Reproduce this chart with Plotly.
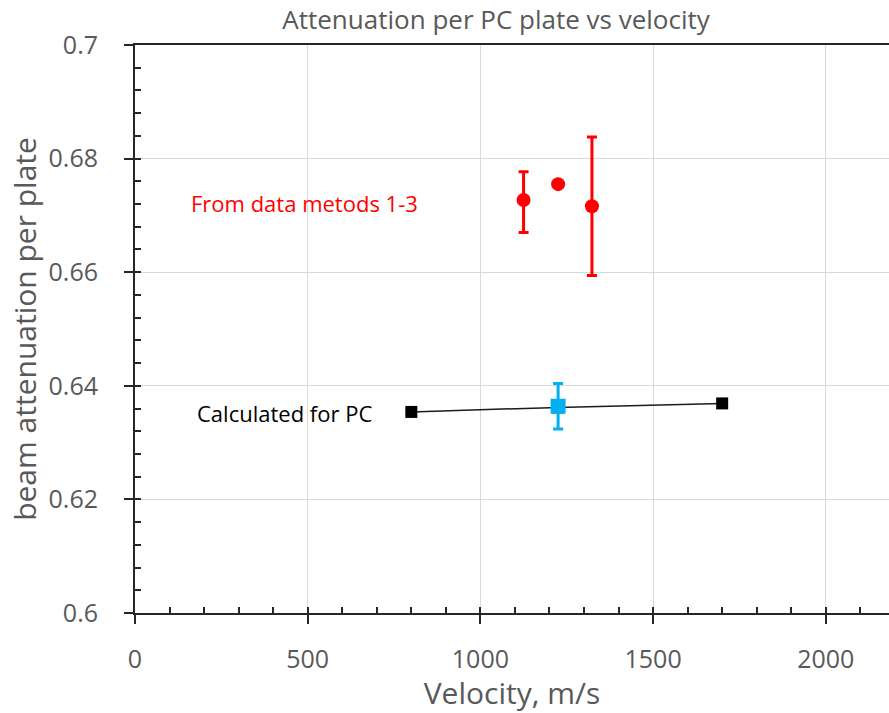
import plotly.graph_objects as go

# Measured attenuation (methods 1-3)
meas_velocity = [1125, 1225, 1323]
meas_atten = [0.6727, 0.6755, 0.6716]
meas_err_plus = [0.0050, 0.0, 0.0122]
meas_err_minus = [0.0057, 0.0, 0.0122]

# Calculated attenuation for PC
calc_velocity = [800, 1225, 1700]
calc_atten = [0.6354, 0.6362, 0.6369]

# Calculated point at the measured velocity, with its uncertainty
pc_velocity = [1225]
pc_atten = [0.6364]
pc_err = [0.0040]

x_range = [0, 2183]
y_range = [0.6, 0.7]

GRAY = "#595959"
AXIS = "#262626"
FONT = "Open Sans"

fig = go.Figure()

fig.add_trace(go.Scatter(
    x=calc_velocity, y=calc_atten, mode="lines+markers",
    line=dict(color="#1a1a1a", width=1.5),
    marker=dict(symbol="square", size=12, color="black"),
    showlegend=False,
))

fig.add_trace(go.Scatter(
    x=pc_velocity, y=pc_atten, mode="markers",
    marker=dict(symbol="square", size=15, color="#00B0F0"),
    error_y=dict(type="data", array=pc_err, color="#00B0F0", thickness=3, width=5),
    showlegend=False,
))

fig.add_trace(go.Scatter(
    x=meas_velocity, y=meas_atten, mode="markers",
    marker=dict(symbol="circle", size=14, color="#FF0000"),
    error_y=dict(type="data", symmetric=False, array=meas_err_plus,
                 arrayminus=meas_err_minus, color="#FF0000", thickness=3, width=5),
    showlegend=False,
))

# Secondary axes carrying the inside minor ticks (including at the major positions)
fig.add_trace(go.Scatter(x=[None], y=[None], xaxis="x2", yaxis="y2", showlegend=False,
                         hoverinfo="skip"))

fig.update_layout(
    width=889, height=713,
    margin=dict(l=135, r=0, t=45, b=100),
    paper_bgcolor="white", plot_bgcolor="white",
    font=dict(family=FONT, color=GRAY),
    title=dict(text="Attenuation per PC plate vs velocity", x=0.558, xanchor="center",
               y=0.972, yanchor="middle", font=dict(size=26, color=GRAY, family=FONT)),
    xaxis=dict(
        range=x_range, dtick=500, tick0=0,
        showgrid=True, gridcolor="#D9D9D9", gridwidth=1.3,
        showline=True, linecolor=AXIS, linewidth=2, mirror=True,
        ticks="outside", ticklen=9, tickwidth=1.5, tickcolor=AXIS,
        tickfont=dict(size=25, color=GRAY), zeroline=False,
        ticklabelstandoff=14,
        title=dict(text="Velocity, m/s", font=dict(size=30, color=GRAY), standoff=0),
    ),
    yaxis=dict(
        range=y_range, dtick=0.02, tick0=0.6, tickformat="~g",
        showgrid=True, gridcolor="#D9D9D9", gridwidth=1.3,
        showline=True, linecolor=AXIS, linewidth=2,
        ticks="outside", ticklen=9, tickwidth=1.5, tickcolor=AXIS,
        tickfont=dict(size=25, color=GRAY), zeroline=False,
        ticklabelstandoff=21,
        title=dict(text="beam attenuation per plate", font=dict(size=30, color=GRAY), standoff=3),
    ),
    xaxis2=dict(
        overlaying="x", anchor="y2", matches="x", range=x_range, dtick=100, tick0=0,
        ticks="inside", ticklen=6, tickwidth=1.5, tickcolor=AXIS,
        showticklabels=False, showgrid=False, zeroline=False, showline=False,
    ),
    yaxis2=dict(
        overlaying="y", anchor="x2", matches="y", range=y_range, dtick=0.004, tick0=0.6,
        ticks="inside", ticklen=6, tickwidth=1.5, tickcolor=AXIS,
        showticklabels=False, showgrid=False, zeroline=False, showline=False,
    ),
    annotations=[
        dict(text="From data metods 1-3", x=155, y=0.6722, xref="x", yref="y",
             xanchor="left", yanchor="middle", showarrow=False,
             font=dict(size=22, color="#FF0000", family=FONT)),
        dict(text="Calculated for PC", x=175, y=0.6352, xref="x", yref="y",
             xanchor="left", yanchor="middle", showarrow=False,
             font=dict(size=22, color="black", family=FONT)),
    ],
)

fig.write_html("out.html")
